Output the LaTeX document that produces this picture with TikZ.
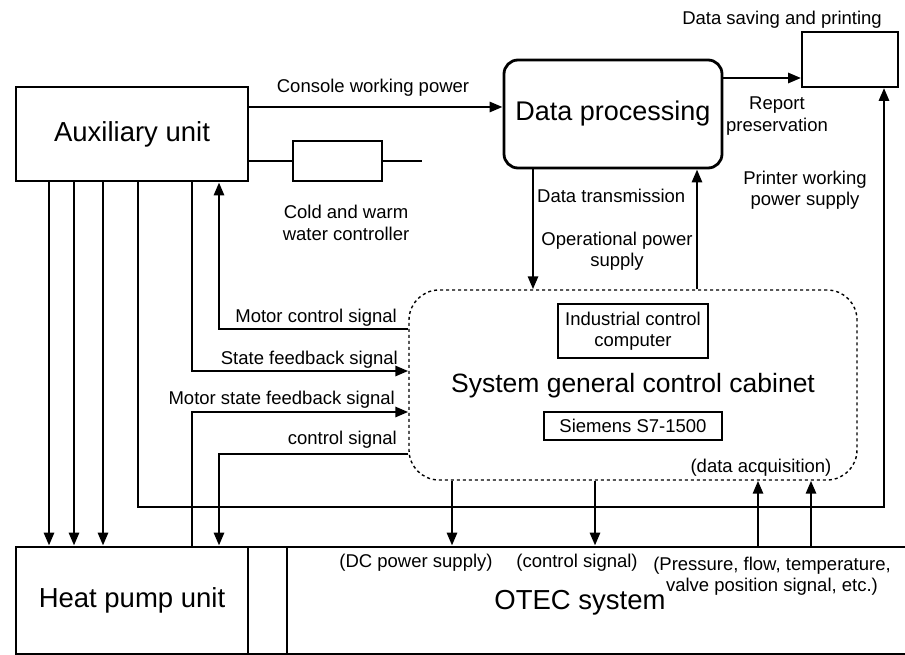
\documentclass[tikz,border=0pt]{standalone}
\usepackage{fontspec}
\setmainfont{Liberation Sans}
\usetikzlibrary{arrows.meta}
\tikzset{
  ln/.style={line width=2.8pt},
  arr/.style={line width=2.8pt,-{Triangle[length=13pt,width=10pt]}},
  bigbox/.style={draw,line width=2.8pt,inner sep=0pt,font=\fontsize{27}{32}\selectfont},
  thinbox/.style={draw,line width=1.5pt,inner sep=0pt,align=center,font=\fontsize{18.5}{21.5}\selectfont},
  lbl/.style={inner sep=0pt,align=center,font=\fontsize{18.5}{21.5}\selectfont},
  biglbl/.style={inner sep=0pt,align=center,font=\fontsize{26.5}{31}\selectfont},
}
\begin{document}
\begin{tikzpicture}[x=1pt,y=-1pt]
\useasboundingbox[fill=white] (0,0) rectangle (905,655);
% boxes
\node[bigbox,minimum width=232pt,minimum height=94pt,font=\fontsize{27.5}{32}\selectfont] (aux) at (132,134) {Auxiliary unit};
\node[bigbox,rounded corners=14pt,minimum width=218pt,minimum height=108pt] (dp) at (613,114) {Data processing};
\node[draw,line width=1.8pt,minimum width=96pt,minimum height=55pt,inner sep=0pt] (ds) at (850,59.5) {};
\node[draw,line width=1.8pt,minimum width=89pt,minimum height=40pt,inner sep=0pt] (cw) at (337.5,161) {};
\node[draw,dashed,line width=1.4pt,rounded corners=30pt,minimum width=448pt,minimum height=190pt,inner sep=0pt] (cab) at (633,385) {};
\node[thinbox,minimum width=150pt,minimum height=54pt] (icc) at (633,331) {Industrial control\\computer};
\node[thinbox,minimum width=178pt,minimum height=28pt] (sie) at (633,426) {Siemens S7-1500};
\node[biglbl] (cabl) at (633,386) {System general control cabinet};
\node[bigbox,minimum width=232pt,minimum height=107pt,font=\fontsize{27.5}{32}\selectfont] (hp) at (132,600.5) {Heat pump unit};
\node[draw,line width=2.8pt,minimum width=39pt,minimum height=107pt,inner sep=0pt] (mid) at (267.5,600.5) {};
\node[draw,line width=2.8pt,minimum width=623pt,minimum height=107pt,inner sep=0pt] (otec) at (598.5,600.5) {};
\node[biglbl,font=\fontsize{27.5}{32}\selectfont] (otecl) at (580,603) {OTEC system};
\coordinate (cwend) at (422,161);
% connectors
\draw[arr] (aux.east |- 0,107) -- (dp.west |- 0,107);
\draw[ln] (aux.east |- cw.west) -- (cw.west);
\draw[ln] (cw.east) -- (cwend);
\draw[arr] (aux.south -| 49,0) -- (hp.north -| 49,0);
\draw[arr] (aux.south -| 74,0) -- (hp.north -| 74,0);
\draw[arr] (aux.south -| 103,0) -- (hp.north -| 103,0);
\draw[arr] (aux.south -| 138,0) -- (138,507) -- (884,507) -- (ds.south -| 884,0);
\draw[arr] (aux.south -| 192,0) |- (cab.west |- 0,371);
\draw[arr] (cab.west |- 0,329) -| (aux.south -| 219,0);
\draw[arr] (hp.north -| 192,0) |- (cab.west |- 0,412);
\draw[arr] (cab.west |- 0,454) -| (hp.north -| 219,0);
\draw[arr] (dp.south -| 533,0) -- (cab.north -| 533,0);
\draw[arr] (cab.north -| 697,0) -- (dp.south -| 697,0);
\draw[arr] (dp.east |- 0,78) -- (ds.west |- 0,78);
\draw[arr] (cab.south -| 452,0) -- (otec.north -| 452,0);
\draw[arr] (cab.south -| 595,0) -- (otec.north -| 595,0);
\draw[arr] (otec.north -| 758,0) -- (cab.south -| 758,0);
\draw[arr] (otec.north -| 811,0) -- (cab.south -| 811,0);
% labels
\node[lbl] (l1) at (373,88) {Console working power};
\node[lbl] (l2) at (346,223) {Cold and warm\\water controller};
\node[lbl] (l3) at (777,116) {Report\\preservation};
\node[lbl,anchor=west] (l4) at (537,196) {Data transmission};
\node[lbl] (l5) at (617,251) {Operational power\\supply};
\node[lbl] (l6) at (805,190) {Printer working\\power supply};
\node[lbl] (l7) at (782,20) {Data saving and printing};
\node[lbl,anchor=east] (l8) at (397,318) {Motor control signal};
\node[lbl,anchor=east] (l9) at (398,360) {State feedback signal};
\node[lbl,anchor=east] (l10) at (395,400) {Motor state feedback signal};
\node[lbl,anchor=east] (l11) at (397,440) {control signal};
\node[lbl] (l12) at (761,468) {(data acquisition)};
\node[lbl] (l13) at (416,563) {(DC power supply)};
\node[lbl] (l14) at (577,563) {(control signal)};
\node[lbl] (l15) at (772,576) {(Pressure, flow, temperature,\\valve position signal, etc.)};
\end{tikzpicture}
\end{document}
